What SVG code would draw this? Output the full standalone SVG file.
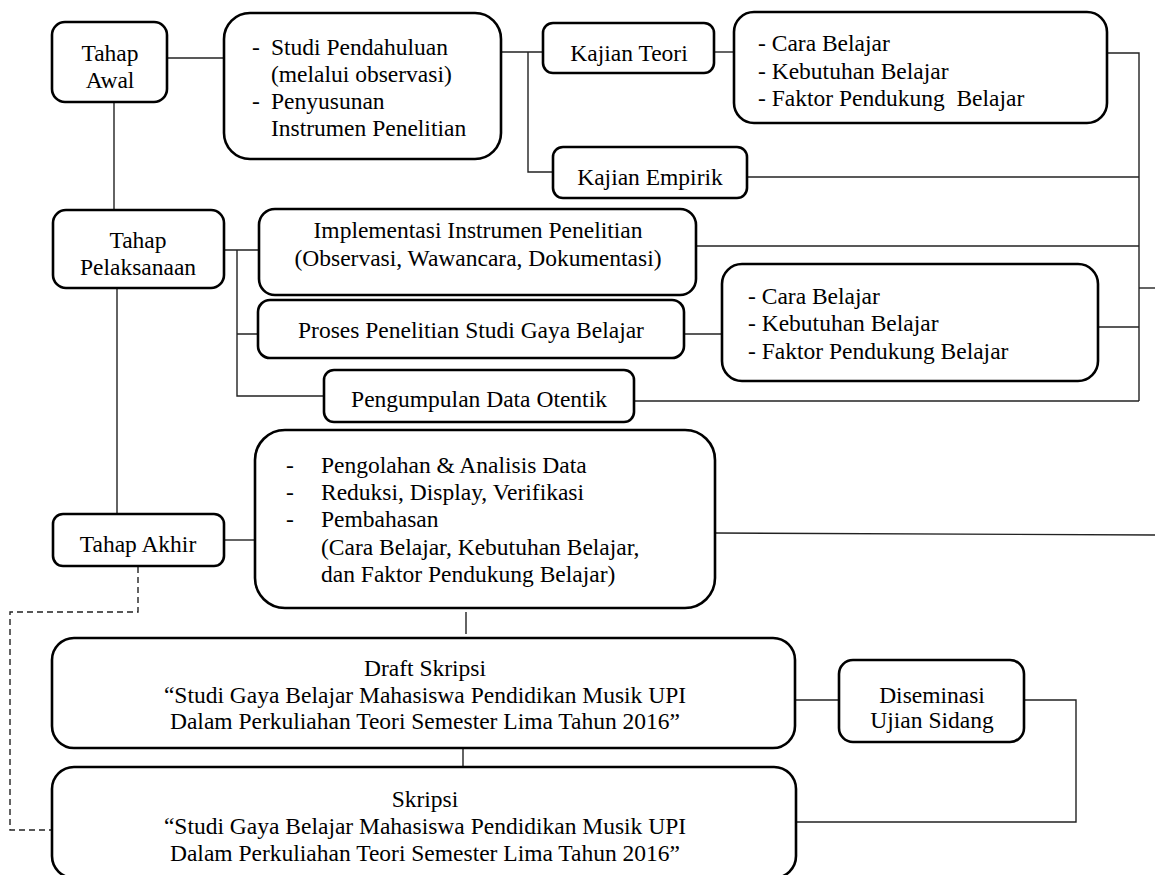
<svg xmlns="http://www.w3.org/2000/svg" width="1155" height="875" viewBox="0 0 1155 875">
<style>
.box{fill:#fff;stroke:#000;stroke-width:2.6}
text{font-family:'Liberation Serif','Times New Roman',serif;font-size:23.5px;fill:#000}
.c{text-anchor:middle}
.ln{fill:none;stroke:#222;stroke-width:1.4}
.dash{fill:none;stroke:#222;stroke-width:1.4;stroke-dasharray:6 4}
</style>
<rect width="1155" height="875" fill="#fff"/>
<g id="connectors">
<path class="ln" d="M167 58H224"/>
<path class="ln" d="M114 102V210"/>
<path class="ln" d="M501 52H543M528 52V172H553"/>
<path class="ln" d="M714 52H734"/>
<path class="ln" d="M1105 53H1139V401"/>
<path class="ln" d="M747 177H1139"/>
<path class="ln" d="M696 246H1139"/>
<path class="ln" d="M1139 288H1155"/>
<path class="ln" d="M1098 327H1139"/>
<path class="ln" d="M634 401H1139"/>
<path class="ln" d="M684 334H722"/>
<path class="ln" d="M224 250H259M237 250V396H324M237 334H258"/>
<path class="ln" d="M117 288V515"/>
<path class="ln" d="M224 540H255"/>
<path class="ln" d="M715 533L1155 535"/>
<path class="ln" d="M466 612V634"/>
<path class="ln" d="M463 748V766"/>
<path class="ln" d="M795 700H839"/>
<path class="ln" d="M1024 700H1076V822H796"/>
<path class="dash" d="M138 567V612H10V830H52"/>
</g>
<g id="tahap-awal">
<rect class="box" x="52" y="22" width="115" height="80" rx="13"/>
<text class="c" x="110" y="61">Tahap</text>
<text class="c" x="110" y="88">Awal</text>
</g>
<g id="studi">
<rect class="box" x="224" y="13" width="277" height="146" rx="26"/>
<text x="252" y="55">-</text><text x="271" y="55">Studi Pendahuluan</text>
<text x="271" y="82">(melalui observasi)</text>
<text x="252" y="109">-</text><text x="271" y="109">Penyusunan</text>
<text x="271" y="136">Instrumen Penelitian</text>
</g>
<g id="kajian-teori">
<rect class="box" x="543" y="23" width="171" height="50" rx="10"/>
<text class="c" x="629" y="61">Kajian Teori</text>
</g>
<g id="cara1">
<rect class="box" x="734" y="12" width="373" height="111" rx="20"/>
<text x="758" y="51">- Cara Belajar</text>
<text x="758" y="79">- Kebutuhan Belajar</text>
<text x="758" y="106" xml:space="preserve">- Faktor Pendukung  Belajar</text>
</g>
<g id="kajian-empirik">
<rect class="box" x="553" y="147" width="194" height="51" rx="10"/>
<text class="c" x="650" y="185">Kajian Empirik</text>
</g>
<g id="tahap-pelaksanaan">
<rect class="box" x="53" y="210" width="171" height="78" rx="13"/>
<text class="c" x="138" y="248">Tahap</text>
<text class="c" x="138" y="275">Pelaksanaan</text>
</g>
<g id="implementasi">
<rect class="box" x="259" y="209" width="437" height="86" rx="16"/>
<text class="c" x="478" y="238">Implementasi Instrumen Penelitian</text>
<text class="c" x="478" y="266">(Observasi, Wawancara, Dokumentasi)</text>
</g>
<g id="proses">
<rect class="box" x="258" y="300" width="426" height="58" rx="12"/>
<text class="c" x="471" y="338">Proses Penelitian Studi Gaya Belajar</text>
</g>
<g id="cara2">
<rect class="box" x="722" y="264" width="376" height="117" rx="20"/>
<text x="748" y="304">- Cara Belajar</text>
<text x="748" y="331">- Kebutuhan Belajar</text>
<text x="748" y="359">- Faktor Pendukung Belajar</text>
</g>
<g id="pengumpulan">
<rect class="box" x="324" y="370" width="310" height="52" rx="10"/>
<text class="c" x="479" y="407">Pengumpulan Data Otentik</text>
</g>
<g id="tahap-akhir">
<rect class="box" x="53" y="514" width="171" height="52" rx="10"/>
<text class="c" x="138" y="552">Tahap Akhir</text>
</g>
<g id="pengolahan">
<rect class="box" x="255" y="430" width="460" height="178" rx="30"/>
<text x="286" y="473">-</text><text x="321" y="473">Pengolahan &amp; Analisis Data</text>
<text x="286" y="500">-</text><text x="321" y="500">Reduksi, Display, Verifikasi</text>
<text x="286" y="527">-</text><text x="321" y="527">Pembahasan</text>
<text x="321" y="555">(Cara Belajar, Kebutuhan Belajar,</text>
<text x="321" y="582">dan Faktor Pendukung Belajar)</text>
</g>
<g id="draft">
<rect class="box" x="52" y="638" width="743" height="110" rx="22"/>
<text class="c" x="425" y="676">Draft Skripsi</text>
<text class="c" x="425" y="703">“Studi Gaya Belajar Mahasiswa Pendidikan Musik UPI</text>
<text class="c" x="425" y="729">Dalam Perkuliahan Teori Semester Lima Tahun 2016”</text>
</g>
<g id="diseminasi">
<rect class="box" x="839" y="660" width="185" height="82" rx="14"/>
<text class="c" x="932" y="703">Diseminasi</text>
<text class="c" x="932" y="728">Ujian Sidang</text>
</g>
<g id="skripsi">
<rect class="box" x="52" y="767" width="744" height="111" rx="22"/>
<text class="c" x="425" y="807">Skripsi</text>
<text class="c" x="425" y="834">“Studi Gaya Belajar Mahasiswa Pendidikan Musik UPI</text>
<text class="c" x="425" y="861">Dalam Perkuliahan Teori Semester Lima Tahun 2016”</text>
</g>
</svg>
